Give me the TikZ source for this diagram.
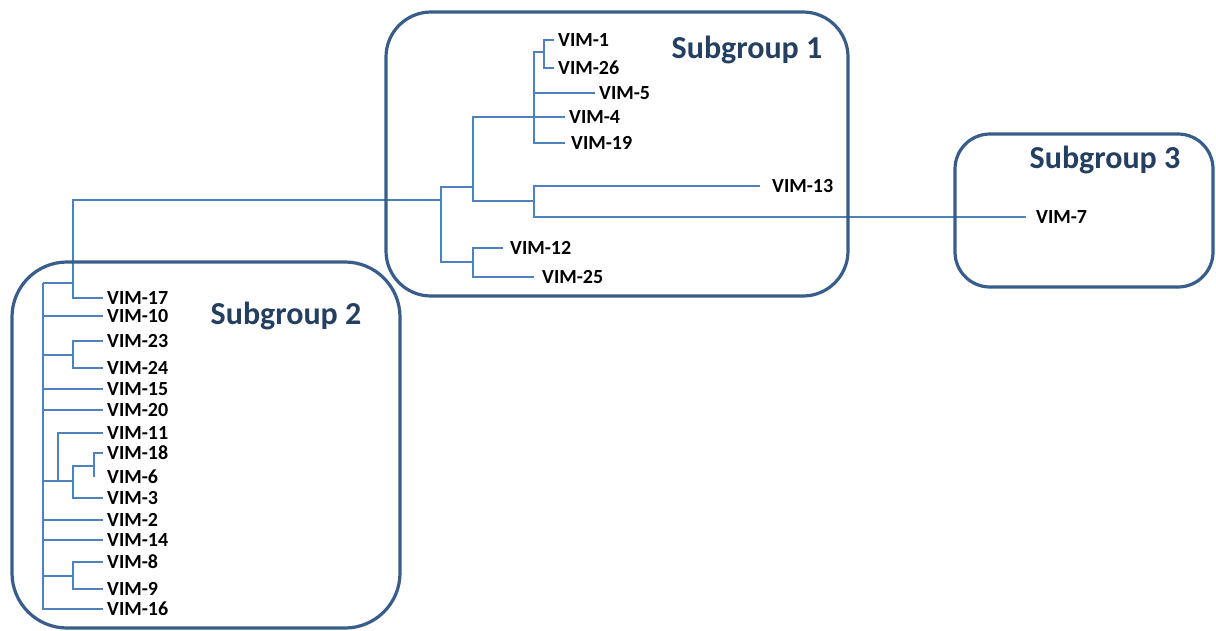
\documentclass[tikz,border=0pt]{standalone}
\usepackage{fontspec}
\setmainfont{Carlito}
\definecolor{branch}{HTML}{4F81BD}
\definecolor{frame}{HTML}{385D8A}
\definecolor{heading}{HTML}{243F60}
\begin{document}
\begin{tikzpicture}[x=1pt,y=-1pt,
  edge/.style={draw=branch, line width=2pt},
  leaf/.style={anchor=west, inner ysep=0pt, inner xsep=4pt,
    font=\fontsize{20}{20}\selectfont\bfseries},
  group/.style={draw=frame, line width=3.2pt, inner sep=0pt},
  title/.style={font=\fontsize{32}{32}\selectfont\bfseries, text=heading}]
\useasboundingbox (0,0) rectangle (1216,630);

% ---- branching points ----
\coordinate (root)  at (73,283);
% subgroup 1 and 3
\coordinate (nABC)  at (441,200);
\coordinate (nAB)   at (473,187);
\coordinate (nA)    at (534,117);
\coordinate (n126)  at (544,52);
\coordinate (nB)    at (534,201);
\coordinate (nC)    at (473,262);
% subgroup 2
\coordinate (nS2)   at (43,283);
\coordinate (n2324) at (73,355);
\coordinate (n11)   at (58,481);
\coordinate (n3)    at (73,481);
\coordinate (n186)  at (94,466);
\coordinate (n89)   at (73,576);

% ---- leaves ----
\node[leaf] (v1)  at (554,40)  {VIM-1};
\node[leaf] (v26) at (554,68)  {VIM-26};
\node[leaf] (v5)  at (595,93)  {VIM-5};
\node[leaf] (v4)  at (565,117) {VIM-4};
\node[leaf,inner xsep=6pt] (v19) at (565,143) {VIM-19};
\node[leaf,inner xsep=12pt] (v13) at (760,186) {VIM-13};
\node[leaf,inner xsep=10pt] (v7)  at (1026,217) {VIM-7};
\node[leaf,inner xsep=7pt] (v12) at (503,248) {VIM-12};
\node[leaf,inner xsep=8pt] (v25) at (534,277) {VIM-25};

\node[leaf] (v17) at (103,298) {VIM-17};
\node[leaf] (v10) at (103,316) {VIM-10};
\node[leaf] (v23) at (103,341) {VIM-23};
\node[leaf] (v24) at (103,368) {VIM-24};
\node[leaf] (v15) at (103,389) {VIM-15};
\node[leaf] (v20) at (103,410) {VIM-20};
\node[leaf] (v11) at (103,433) {VIM-11};
\node[leaf] (v18) at (103,453) {VIM-18};
\node[leaf,inner xsep=13pt] (v6) at (94,477) {VIM-6};
\node[leaf] (v3)  at (103,498) {VIM-3};
\node[leaf] (v2)  at (103,520) {VIM-2};
\node[leaf] (v14) at (103,540) {VIM-14};
\node[leaf] (v8)  at (103,562) {VIM-8};
\node[leaf] (v9)  at (103,589) {VIM-9};
\node[leaf] (v16) at (103,609) {VIM-16};

% ---- branches ----
\draw[edge] (root) |- (nABC);
\draw[edge] (root) |- (v17.west);
\draw[edge] (root) -- (nS2);

\draw[edge] (nABC) |- (nAB);
\draw[edge] (nABC) |- (nC);
\draw[edge] (nAB) |- (nA);
\draw[edge] (nAB) |- (nB);
\draw[edge] (nA) |- (n126);
\draw[edge] (nA) |- (v5.west);
\draw[edge] (nA) -- (v4.west);
\draw[edge] (nA) |- (v19.west);
\draw[edge] (n126) |- (v1.west);
\draw[edge] (n126) |- (v26.west);
\draw[edge] (nB) |- (v13.west);
\draw[edge] (nB) |- (v7.west);
\draw[edge] (nC) |- (v12.west);
\draw[edge] (nC) |- (v25.west);

\draw[edge] (nS2) |- (v10.west);
\draw[edge] (nS2) |- (n2324);
\draw[edge] (nS2) |- (v15.west);
\draw[edge] (nS2) |- (v20.west);
\draw[edge] (nS2) |- (n11);
\draw[edge] (nS2) |- (v2.west);
\draw[edge] (nS2) |- (v14.west);
\draw[edge] (nS2) |- (n89);
\draw[edge] (nS2) |- (v16.west);
\draw[edge] (n2324) |- (v23.west);
\draw[edge] (n2324) |- (v24.west);
\draw[edge] (n11) |- (v11.west);
\draw[edge] (n11) -- (n3);
\draw[edge] (n3) |- (n186);
\draw[edge] (n3) |- (v3.west);
\draw[edge] (n186) |- (v18.west);
\draw[edge] (n186) |- (v6.west);
\draw[edge] (n89) |- (v8.west);
\draw[edge] (n89) |- (v9.west);

% ---- subgroup frames and headings ----
\node[group, rounded corners=45pt, minimum width=462pt, minimum height=284pt] (g1) at (617,154) {};
\node[group, rounded corners=55pt, minimum width=388pt, minimum height=366pt] (g2) at (206,445) {};
\node[group, rounded corners=35pt, minimum width=258pt, minimum height=153pt] (g3) at (1084,210.5) {};
\node[title] (t1) at (747,50)  {Subgroup 1};
\node[title] (t2) at (286,316) {Subgroup 2};
\node[title] (t3) at (1105,160) {Subgroup 3};
\end{tikzpicture}
\end{document}
